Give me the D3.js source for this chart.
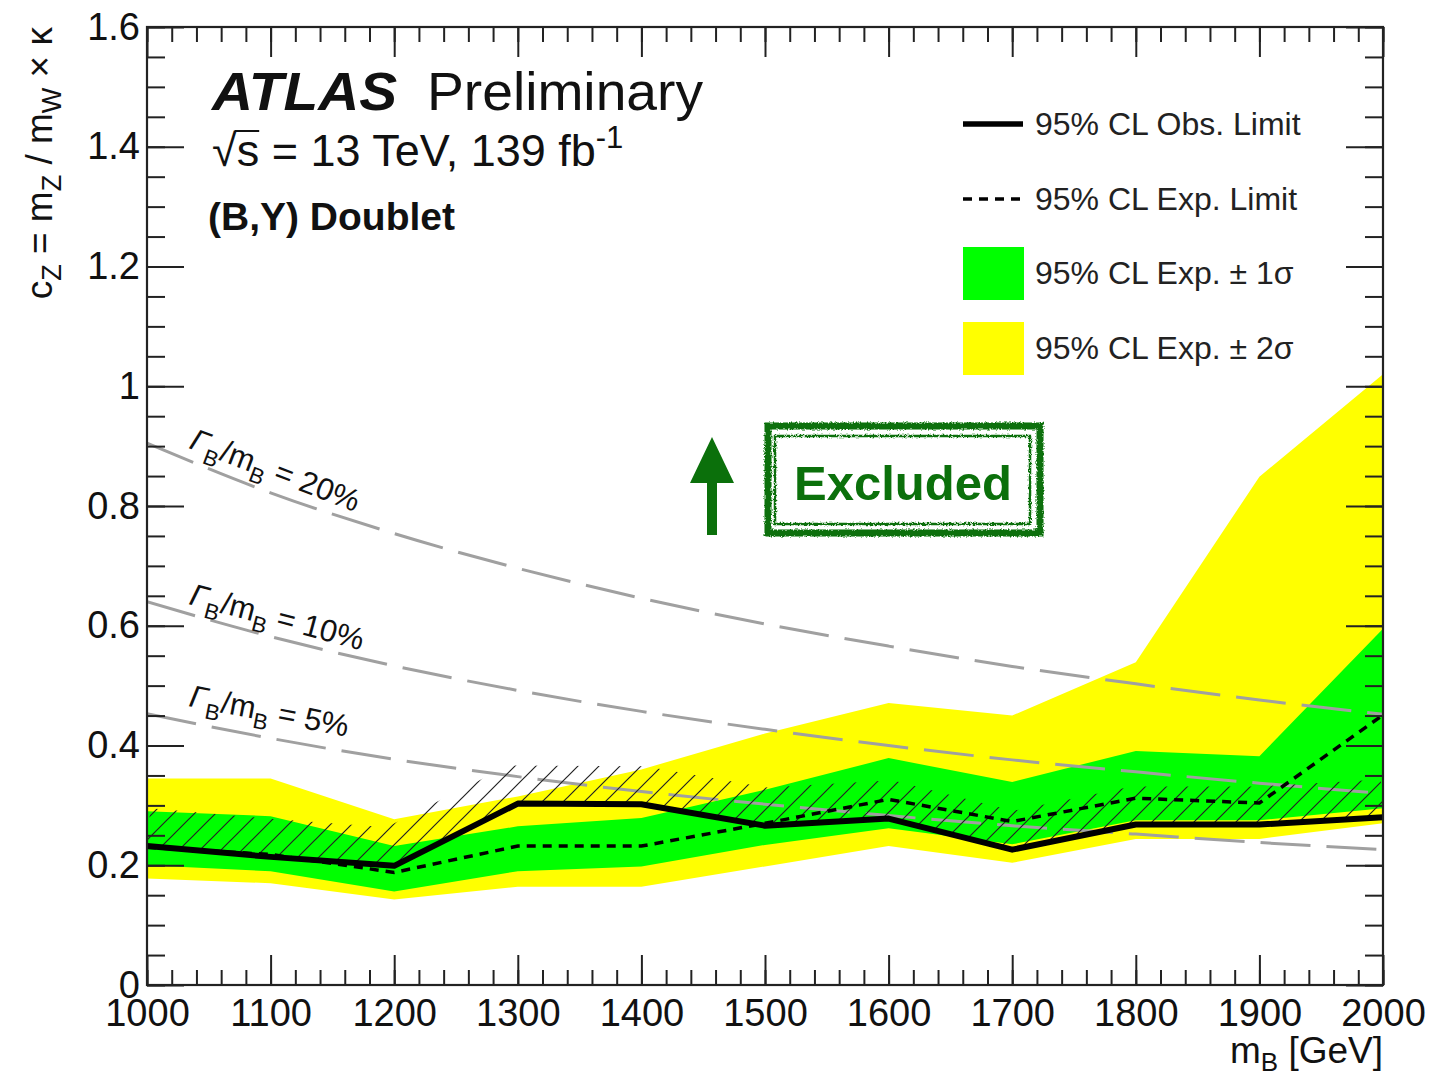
<!DOCTYPE html>
<html lang="en">
<head>
<meta charset="UTF-8">
<title>VLQ B limits - (B,Y) doublet</title>
<script src="https://d3js.org/d3.v7.min.js"></script>
<style>
  body, html { margin: 0; background: #ffffff; }
  svg { display: block; font-family: 'Liberation Sans', Arial, Helvetica, sans-serif; }
  .tick text { fill: #111; }
</style>
</head>
<body>
<svg id="chart" width="1444" height="1076"></svg>
<script>
// masses [GeV]
const masses = [1000, 1100, 1200, 1300, 1400, 1500, 1600, 1700, 1800, 1900, 2000];

// 95% CL limits on c_Z
const obsLimit = [0.232, 0.214, 0.199, 0.303, 0.302, 0.266, 0.278, 0.226, 0.268, 0.268, 0.280];
const expLimit = [0.230, 0.218, 0.188, 0.232, 0.232, 0.270, 0.310, 0.273, 0.312, 0.304, 0.451];
const exp1Up   = [0.290, 0.282, 0.232, 0.265, 0.279, 0.326, 0.379, 0.339, 0.391, 0.382, 0.595];
const exp1Down = [0.200, 0.190, 0.156, 0.190, 0.198, 0.234, 0.262, 0.235, 0.275, 0.275, 0.295];
const exp2Up   = [0.345, 0.345, 0.277, 0.315, 0.360, 0.420, 0.471, 0.450, 0.539, 0.849, 1.020];
const exp2Down = [0.178, 0.170, 0.143, 0.164, 0.164, 0.198, 0.232, 0.204, 0.244, 0.244, 0.270];

// constant width contours Gamma_B / m_B
const width20 = [0.905, 0.822, 0.754, 0.696, 0.646, 0.603, 0.566, 0.532, 0.503, 0.476, 0.452];
const width10 = [0.640, 0.582, 0.533, 0.492, 0.457, 0.427, 0.400, 0.376, 0.356, 0.337, 0.320];
const width5  = [0.453, 0.412, 0.377, 0.348, 0.323, 0.302, 0.283, 0.266, 0.252, 0.238, 0.226];
const widthLabels = ["20%", "10%", "5%"];

const xTickValues = [1000, 1100, 1200, 1300, 1400, 1500, 1600, 1700, 1800, 1900, 2000];
const yTickValues = [0, 0.2, 0.4, 0.6, 0.8, 1.0, 1.2, 1.4, 1.6];
const yTickLabels = ["0", "0.2", "0.4", "0.6", "0.8", "1", "1.2", "1.4", "1.6"];
const legendLabels = ["95% CL Obs. Limit", "95% CL Exp. Limit", "95% CL Exp. \u00b1 1\u03c3", "95% CL Exp. \u00b1 2\u03c3"];

const svg = d3.select("#chart");
const pL = 147, pR = 1383, pT = 27, pB = 985;

const x = d3.scaleLinear().domain([1000, 2000]).range([pL, pR]);
const y = d3.scaleLinear().domain([0, 1.6]).range([pB, pT]);

const defs = svg.append("defs");
defs.append("clipPath").attr("id", "plotClip")
  .append("rect").attr("x", pL).attr("y", pT).attr("width", pR - pL).attr("height", pB - pT);

const hatch = defs.append("pattern")
  .attr("id", "hatch").attr("patternUnits", "userSpaceOnUse")
  .attr("width", 21).attr("height", 21);
hatch.append("path")
  .attr("d", "M0,21 L21,0 M-6,6 L6,-6 M15,27 L27,15")
  .attr("stroke", "#222").attr("stroke-width", 1.2);

// rough stamp look for the Excluded box
const rough = defs.append("filter").attr("id", "rough")
  .attr("x", "-5%").attr("y", "-10%").attr("width", "110%").attr("height", "120%");
rough.append("feTurbulence").attr("type", "fractalNoise").attr("baseFrequency", 0.6)
  .attr("numOctaves", 2).attr("seed", 3).attr("result", "noise");
rough.append("feDisplacementMap").attr("in", "SourceGraphic").attr("in2", "noise")
  .attr("scale", 4).attr("xChannelSelector", "R").attr("yChannelSelector", "G");

const plot = svg.append("g").attr("clip-path", "url(#plotClip)");

// bands
const band = (lo, hi) => d3.area()
  .x((d, i) => x(masses[i]))
  .y0((d, i) => y(lo[i]))
  .y1((d, i) => y(hi[i]));

plot.append("path").datum(masses).attr("d", band(exp2Down, exp2Up)).attr("fill", "#ffff00");
plot.append("path").datum(masses).attr("d", band(exp1Down, exp1Up)).attr("fill", "#00ff00");

// width contours
const widthLine = d3.line().x((d, i) => x(masses[i])).y(d => y(d)).curve(d3.curveMonotoneX);
[width20, width10, width5].forEach(w => {
  plot.append("path").datum(w).attr("d", widthLine)
    .attr("fill", "none").attr("stroke", "#a0a0a0").attr("stroke-width", 3)
    .attr("stroke-dasharray", "50,16");
});

// hatched side of observed limit
const pts = masses.map((m, i) => [x(m), y(obsLimit[i])]);
const hatchWidth = 38;
function normalOf(a, b) {
  const dx = b[0] - a[0], dy = b[1] - a[1], len = Math.hypot(dx, dy);
  return [dy / len, -dx / len];
}
const offsetPts = pts.map((p, i) => {
  let n;
  if (i === 0) n = normalOf(pts[0], pts[1]);
  else if (i === pts.length - 1) n = normalOf(pts[i - 1], pts[i]);
  else {
    const n1 = normalOf(pts[i - 1], pts[i]), n2 = normalOf(pts[i], pts[i + 1]);
    let mx = n1[0] + n2[0], my = n1[1] + n2[1];
    const ml = Math.hypot(mx, my);
    mx /= ml; my /= ml;
    const s = hatchWidth / (mx * n1[0] + my * n1[1]);
    return [p[0] + mx * s, p[1] + my * s];
  }
  return [p[0] + n[0] * hatchWidth, p[1] + n[1] * hatchWidth];
});
const hatchPoly = pts.concat(offsetPts.slice().reverse());
plot.append("path")
  .attr("d", "M" + hatchPoly.map(p => p.join(",")).join("L") + "Z")
  .attr("fill", "url(#hatch)");

// limits
const limitLine = d3.line().x((d, i) => x(masses[i])).y(d => y(d));
plot.append("path").datum(expLimit).attr("d", limitLine)
  .attr("fill", "none").attr("stroke", "#000").attr("stroke-width", 3.5)
  .attr("stroke-dasharray", "9,7");
plot.append("path").datum(obsLimit).attr("d", limitLine)
  .attr("fill", "none").attr("stroke", "#000").attr("stroke-width", 6)
  .attr("stroke-linejoin", "round");

// width labels
const labelPos = [[188, 448, 21], [188, 604, 15], [188, 706, 11]];
widthLabels.forEach((lab, k) => {
  const [lx, ly, ang] = labelPos[k];
  const t = svg.append("text")
    .attr("transform", `translate(${lx},${ly}) rotate(${ang})`)
    .attr("font-size", 31).attr("fill", "#111");
  t.append("tspan").attr("font-style", "italic").text("\u0393");
  t.append("tspan").attr("font-size", 22).attr("dy", 9).text("B");
  t.append("tspan").attr("dy", -9).text("/m");
  t.append("tspan").attr("font-size", 22).attr("dy", 9).text("B");
  t.append("tspan").attr("dy", -9).text(" = " + lab);
});

// axes
const xMinor = d3.range(1000, 2001, 20);
const yMinor = d3.range(0, 33).map(i => i * 0.05);
function styleAxis(g) {
  g.select(".domain").remove();
  g.selectAll(".tick line").attr("stroke", "#222").attr("stroke-width", 2);
}
svg.append("g").attr("transform", `translate(0,${pB})`)
  .call(d3.axisBottom(x).tickValues(xMinor).tickSize(-15).tickFormat(""))
  .call(styleAxis);
svg.append("g").attr("transform", `translate(0,${pB})`)
  .call(d3.axisBottom(x).tickValues(xTickValues).tickSize(-30).tickPadding(14).tickFormat(d3.format("d")))
  .call(styleAxis)
  .call(g => g.selectAll("text").attr("font-size", 38).attr("font-family", "'Liberation Sans', Arial, sans-serif"));
svg.append("g").attr("transform", `translate(0,${pT})`)
  .call(d3.axisTop(x).tickValues(xMinor).tickSize(-15).tickFormat(""))
  .call(styleAxis);
svg.append("g").attr("transform", `translate(0,${pT})`)
  .call(d3.axisTop(x).tickValues(xTickValues).tickSize(-30).tickFormat(""))
  .call(styleAxis);

svg.append("g").attr("transform", `translate(${pL},0)`)
  .call(d3.axisLeft(y).tickValues(yMinor).tickSize(-18).tickFormat(""))
  .call(styleAxis);
svg.append("g").attr("transform", `translate(${pL},0)`)
  .call(d3.axisLeft(y).tickValues(yTickValues).tickSize(-37).tickPadding(7)
    .tickFormat((d, i) => yTickLabels[i]))
  .call(styleAxis)
  .call(g => g.selectAll("text").attr("font-size", 38).attr("font-family", "'Liberation Sans', Arial, sans-serif"));
svg.append("g").attr("transform", `translate(${pR},0)`)
  .call(d3.axisRight(y).tickValues(yMinor).tickSize(-18).tickFormat(""))
  .call(styleAxis);
svg.append("g").attr("transform", `translate(${pR},0)`)
  .call(d3.axisRight(y).tickValues(yTickValues).tickSize(-37).tickFormat(""))
  .call(styleAxis);

svg.append("rect").attr("x", pL).attr("y", pT)
  .attr("width", pR - pL).attr("height", pB - pT)
  .attr("fill", "none").attr("stroke", "#222").attr("stroke-width", 2.2);

// axis titles
const xt = svg.append("text").attr("x", pR).attr("y", 1063)
  .attr("text-anchor", "end").attr("font-size", 37).attr("fill", "#111");
xt.append("tspan").text("m");
xt.append("tspan").attr("font-size", 26).attr("dy", 8).text("B");
xt.append("tspan").attr("dy", -8).text(" [GeV]");

const yt = svg.append("text")
  .attr("transform", `translate(52,${pT}) rotate(-90)`)
  .attr("text-anchor", "end").attr("font-size", 37).attr("fill", "#111");
yt.append("tspan").text("c");
yt.append("tspan").attr("font-size", 27).attr("dy", 9).text("Z");
yt.append("tspan").attr("dy", -9).text(" = m");
yt.append("tspan").attr("font-size", 27).attr("dy", 9).text("Z");
yt.append("tspan").attr("dy", -9).text(" / m");
yt.append("tspan").attr("font-size", 27).attr("dy", 9).text("W");
yt.append("tspan").attr("dy", -9).text(" \u00d7 \u03ba");

// ATLAS label
svg.append("text").attr("x", 212).attr("y", 110)
  .attr("font-size", 54).attr("font-weight", "bold").attr("font-style", "italic")
  .attr("textLength", 185).attr("lengthAdjust", "spacingAndGlyphs")
  .attr("fill", "#111").text("ATLAS");
svg.append("text").attr("x", 427).attr("y", 110)
  .attr("font-size", 54).attr("textLength", 276).attr("lengthAdjust", "spacingAndGlyphs")
  .attr("fill", "#111").text("Preliminary");
const en = svg.append("text").attr("x", 212).attr("y", 166)
  .attr("font-size", 45).attr("fill", "#111");
en.append("tspan").text("\u221as = 13 TeV, 139 fb");
en.append("tspan").attr("font-size", 31).attr("dy", -18).text("-1");
// overline of the square root over "s"
const rootBox = en.node().getExtentOfChar(0), sBox = en.node().getExtentOfChar(1);
svg.append("line")
  .attr("x1", rootBox.x + rootBox.width - 2).attr("x2", sBox.x + sBox.width)
  .attr("y1", rootBox.y + 6).attr("y2", rootBox.y + 6)
  .attr("stroke", "#111").attr("stroke-width", 2);
svg.append("text").attr("x", 208).attr("y", 230)
  .attr("font-size", 39).attr("font-weight", "bold").attr("fill", "#111")
  .text("(B,Y) Doublet");

// legend
const legX = 963, legRows = [124, 199, 273, 348];
const leg = svg.append("g");
leg.append("line").attr("x1", legX).attr("x2", legX + 60).attr("y1", legRows[0]).attr("y2", legRows[0])
  .attr("stroke", "#000").attr("stroke-width", 5.5);
leg.append("line").attr("x1", legX).attr("x2", legX + 60).attr("y1", legRows[1]).attr("y2", legRows[1])
  .attr("stroke", "#000").attr("stroke-width", 3.5).attr("stroke-dasharray", "9,7");
leg.append("rect").attr("x", legX).attr("y", legRows[2] - 26).attr("width", 61).attr("height", 53).attr("fill", "#00ff00");
leg.append("rect").attr("x", legX).attr("y", legRows[3] - 26).attr("width", 61).attr("height", 53).attr("fill", "#ffff00");
legendLabels.forEach((lab, i) => {
  leg.append("text").attr("x", 1035).attr("y", legRows[i] + 11)
    .attr("font-size", 32).attr("fill", "#222").text(lab);
});

// Excluded annotation
const green = "#0b700b";
svg.append("path")
  .attr("d", "M707,535 L717,535 L717,483 L734,483 L712,437 L690,483 L707,483 Z")
  .attr("fill", green);
const stamp = svg.append("g").attr("filter", "url(#rough)");
stamp.append("rect").attr("x", 768).attr("y", 426).attr("width", 272).attr("height", 107)
  .attr("fill", "none").attr("stroke", green).attr("stroke-width", 7);
stamp.append("rect").attr("x", 775).attr("y", 436).attr("width", 255).attr("height", 88)
  .attr("fill", "none").attr("stroke", green).attr("stroke-width", 2.5);
svg.append("text").attr("x", 903).attr("y", 500).attr("text-anchor", "middle")
  .attr("font-size", 49).attr("font-weight", "bold").attr("fill", green).text("Excluded");
</script>
</body>
</html>
